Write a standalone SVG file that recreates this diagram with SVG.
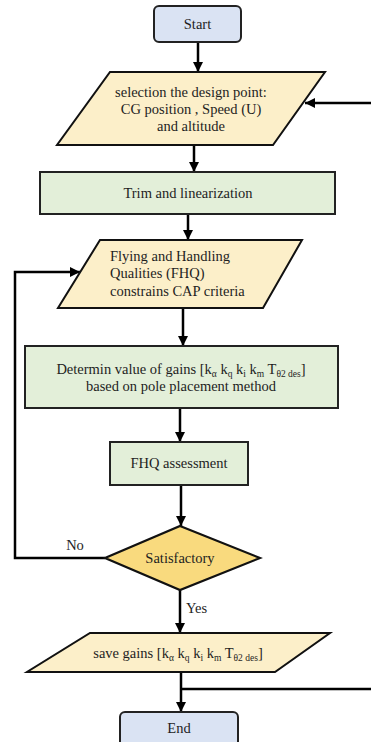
<svg xmlns="http://www.w3.org/2000/svg" width="371" height="742" viewBox="0 0 371 742">
<defs>
<marker id="ah" markerUnits="userSpaceOnUse" markerWidth="10" markerHeight="10" viewBox="0 0 10 10" refX="10" refY="5" orient="auto">
<path d="M0,0 L10,5 L0,10 Z" fill="#000"/>
</marker>
<style>
text{font-family:'Liberation Serif','DejaVu Serif','Times New Roman',serif;font-size:14.5px;fill:#1e1e1e;}
.m{text-anchor:middle;}
.s{font-size:9.5px;}
.term{fill:#dae3f3;stroke:#222;stroke-width:2;}
.io{fill:#fcefc9;stroke:#111;stroke-width:2;}
.proc{fill:#e3efd9;stroke:#222;stroke-width:2;}
.dec{fill:#f9da7e;stroke:#111;stroke-width:2.2;}
.c{fill:none;stroke:#000;stroke-width:2.5;}
</style>
</defs>
<rect width="371" height="742" fill="#fff"/>
<g id="connectors">
<line class="c" x1="198" y1="42" x2="198" y2="72" marker-end="url(#ah)"/>
<line class="c" x1="371" y1="103" x2="305" y2="103" marker-end="url(#ah)"/>
<line class="c" x1="194" y1="145" x2="194" y2="172" marker-end="url(#ah)"/>
<line class="c" x1="188" y1="214" x2="188" y2="240" marker-end="url(#ah)"/>
<line class="c" x1="183" y1="308" x2="183" y2="346" marker-end="url(#ah)"/>
<line class="c" x1="180" y1="408" x2="180" y2="442" marker-end="url(#ah)"/>
<line class="c" x1="181" y1="485" x2="181" y2="526" marker-end="url(#ah)"/>
<polyline class="c" points="105,558 15,558 15,272 80,272" marker-end="url(#ah)"/>
<line class="c" x1="180" y1="590" x2="180" y2="633" marker-end="url(#ah)"/>
<line class="c" x1="181" y1="672" x2="181" y2="712" marker-end="url(#ah)"/>
<line class="c" x1="180" y1="689" x2="371" y2="689"/>
<text x="75" y="550" text-anchor="middle">No</text>
<text x="186" y="613">Yes</text>
</g>
<g id="start">
<rect class="term" x="154" y="6" width="87" height="36" rx="5"/>
<text class="m" x="197.5" y="29">Start</text>
</g>
<g id="design-point">
<polygon class="io" points="110,72 325,72 273,145 57,145"/>
<text class="m" x="191" y="97">selection the design point:</text>
<text class="m" x="191" y="114">CG position , Speed (U)</text>
<text class="m" x="191" y="131">and altitude</text>
</g>
<g id="trim">
<rect class="proc" x="40" y="172" width="295" height="42"/>
<text class="m" x="188" y="198">Trim and linearization</text>
</g>
<g id="fhq">
<polygon class="io" points="100,240 302,240 263,308 58,308"/>
<text x="110" y="261">Flying and Handling</text>
<text x="110" y="278">Qualities (FHQ)</text>
<text x="110" y="296">constrains CAP criteria</text>
</g>
<g id="gains">
<rect class="proc" x="25" y="346" width="313" height="62"/>
<text class="m" x="181" y="374">Determin value of gains [k<tspan class="s" dy="3">α</tspan><tspan dy="-3"> k</tspan><tspan class="s" dy="3">q</tspan><tspan dy="-3"> k</tspan><tspan class="s" dy="3">i</tspan><tspan dy="-3"> k</tspan><tspan class="s" dy="3">m</tspan><tspan dy="-3"> T</tspan><tspan class="s" dy="3">θ2 des</tspan><tspan dy="-3">]</tspan></text>
<text class="m" x="181" y="391">based on pole placement method</text>
</g>
<g id="assessment">
<rect class="proc" x="110" y="442" width="138" height="43"/>
<text class="m" x="179" y="468">FHQ assessment</text>
</g>
<g id="satisfactory">
<polygon class="dec" points="180,526 260,558 180,590 105,558"/>
<text class="m" x="180" y="563">Satisfactory</text>
</g>
<g id="save">
<polygon class="io" points="90,633 330,633 275,672 27,672"/>
<text class="m" x="178" y="658">save gains [k<tspan class="s" dy="3">α</tspan><tspan dy="-3"> k</tspan><tspan class="s" dy="3">q</tspan><tspan dy="-3"> k</tspan><tspan class="s" dy="3">i</tspan><tspan dy="-3"> k</tspan><tspan class="s" dy="3">m</tspan><tspan dy="-3"> T</tspan><tspan class="s" dy="3">θ2 des</tspan><tspan dy="-3">]</tspan></text>
</g>
<g id="end">
<rect class="term" x="120" y="712" width="118" height="40" rx="5"/>
<text class="m" x="179" y="733">End</text>
</g>
</svg>
